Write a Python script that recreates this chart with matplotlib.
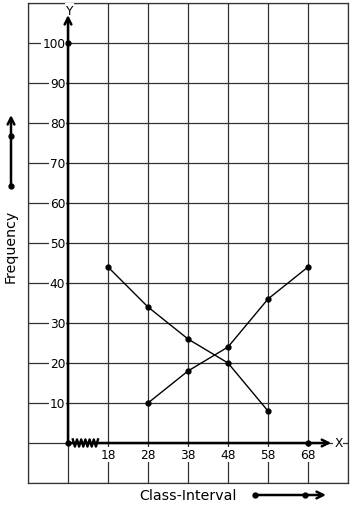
import numpy as np
import matplotlib
matplotlib.use("Agg")
import matplotlib.pyplot as plt

# Data
class_marks = [18, 28, 38, 48, 58, 68]
freq_labels = [10, 20, 30, 40, 50, 60, 70, 80, 90, 100]
series_a_x = [18, 28, 38, 48, 58]
series_a_y = [44, 34, 26, 20, 8]
series_b_x = [28, 38, 48, 58, 68]
series_b_y = [10, 18, 24, 36, 44]

ORIGIN_X = 8
FS = 8.7
TITLE_FS = 10.2
BOX = dict(facecolor='white', edgecolor='none', pad=0.6)

fig = plt.figure(figsize=(3.53, 5.10), dpi=100)
ax = fig.add_axes([28 / 353, 26 / 510, 320 / 353, 480 / 510])
ax.set_xlim(-2, 78)
ax.set_ylim(-10, 110)

# grid
ax.set_xticks(np.arange(-2, 79, 10))
ax.set_yticks(np.arange(-10, 111, 10))
ax.grid(True, color='#333333', lw=0.9)
ax.tick_params(length=0, labelbottom=False, labelleft=False)
for s in ax.spines.values():
    s.set_color('#333333')
    s.set_linewidth(0.9)

# tick labels
for v in freq_labels:
    ax.text(7.3, v, str(v), ha='right', va='center', fontsize=FS, bbox=BOX, zorder=3)
for v in class_marks:
    ax.text(v, -2.9, str(v), ha='center', va='center', fontsize=FS, bbox=BOX, zorder=3)

# axes with arrows
ax.annotate('', xy=(ORIGIN_X, 107), xytext=(ORIGIN_X, 0),
            arrowprops=dict(arrowstyle='->', lw=1.8, color='black',
                            mutation_scale=12, shrinkA=0, shrinkB=0), zorder=4)
ax.annotate('', xy=(73.8, 0), xytext=(ORIGIN_X, 0),
            arrowprops=dict(arrowstyle='->', lw=1.8, color='black',
                            mutation_scale=12, shrinkA=0, shrinkB=0), zorder=4)
ax.text(ORIGIN_X + 0.3, 108.2, 'Y', ha='center', va='center', fontsize=FS, bbox=BOX, zorder=3)
ax.text(75.6, 0, 'X', ha='center', va='center', fontsize=FS, bbox=BOX, zorder=3)
ax.plot([ORIGIN_X, ORIGIN_X, 68], [100, 0, 0], 'o', color='black', ms=3.5, zorder=5)

# axis break zigzag
zx = np.linspace(9.2, 15.5, 13)
zy = np.where(np.arange(13) % 2 == 0, 0.9, -0.9)
ax.plot(zx, zy, color='black', lw=1.7, zorder=5)

# frequency polygons
ax.plot(series_a_x, series_a_y, 'o-', color='black', lw=1, ms=3.5, zorder=5)
ax.plot(series_b_x, series_b_y, 'o-', color='black', lw=1, ms=3.5, zorder=5)

# outside labels
ax.text(-6.3, 49.5, 'Frequency', rotation=90, ha='center', va='center', fontsize=TITLE_FS)
ax.annotate('', xy=(-6.25, 82), xytext=(-6.25, 64.25), annotation_clip=False,
            arrowprops=dict(arrowstyle='->', lw=1.8, color='black',
                            mutation_scale=12, shrinkA=0, shrinkB=0))
ax.plot([-6.25, -6.25], [76.75, 64.25], 'o', color='black', ms=3.5, clip_on=False)

ax.text(38, -13, 'Class-Interval', ha='center', va='center', fontsize=TITLE_FS)
ax.annotate('', xy=(72.5, -13), xytext=(54.75, -13), annotation_clip=False,
            arrowprops=dict(arrowstyle='->', lw=1.8, color='black',
                            mutation_scale=12, shrinkA=0, shrinkB=0))
ax.plot([54.75, 67.25], [-13, -13], 'o', color='black', ms=3.5, clip_on=False)

fig.savefig('out.png', dpi=100)
